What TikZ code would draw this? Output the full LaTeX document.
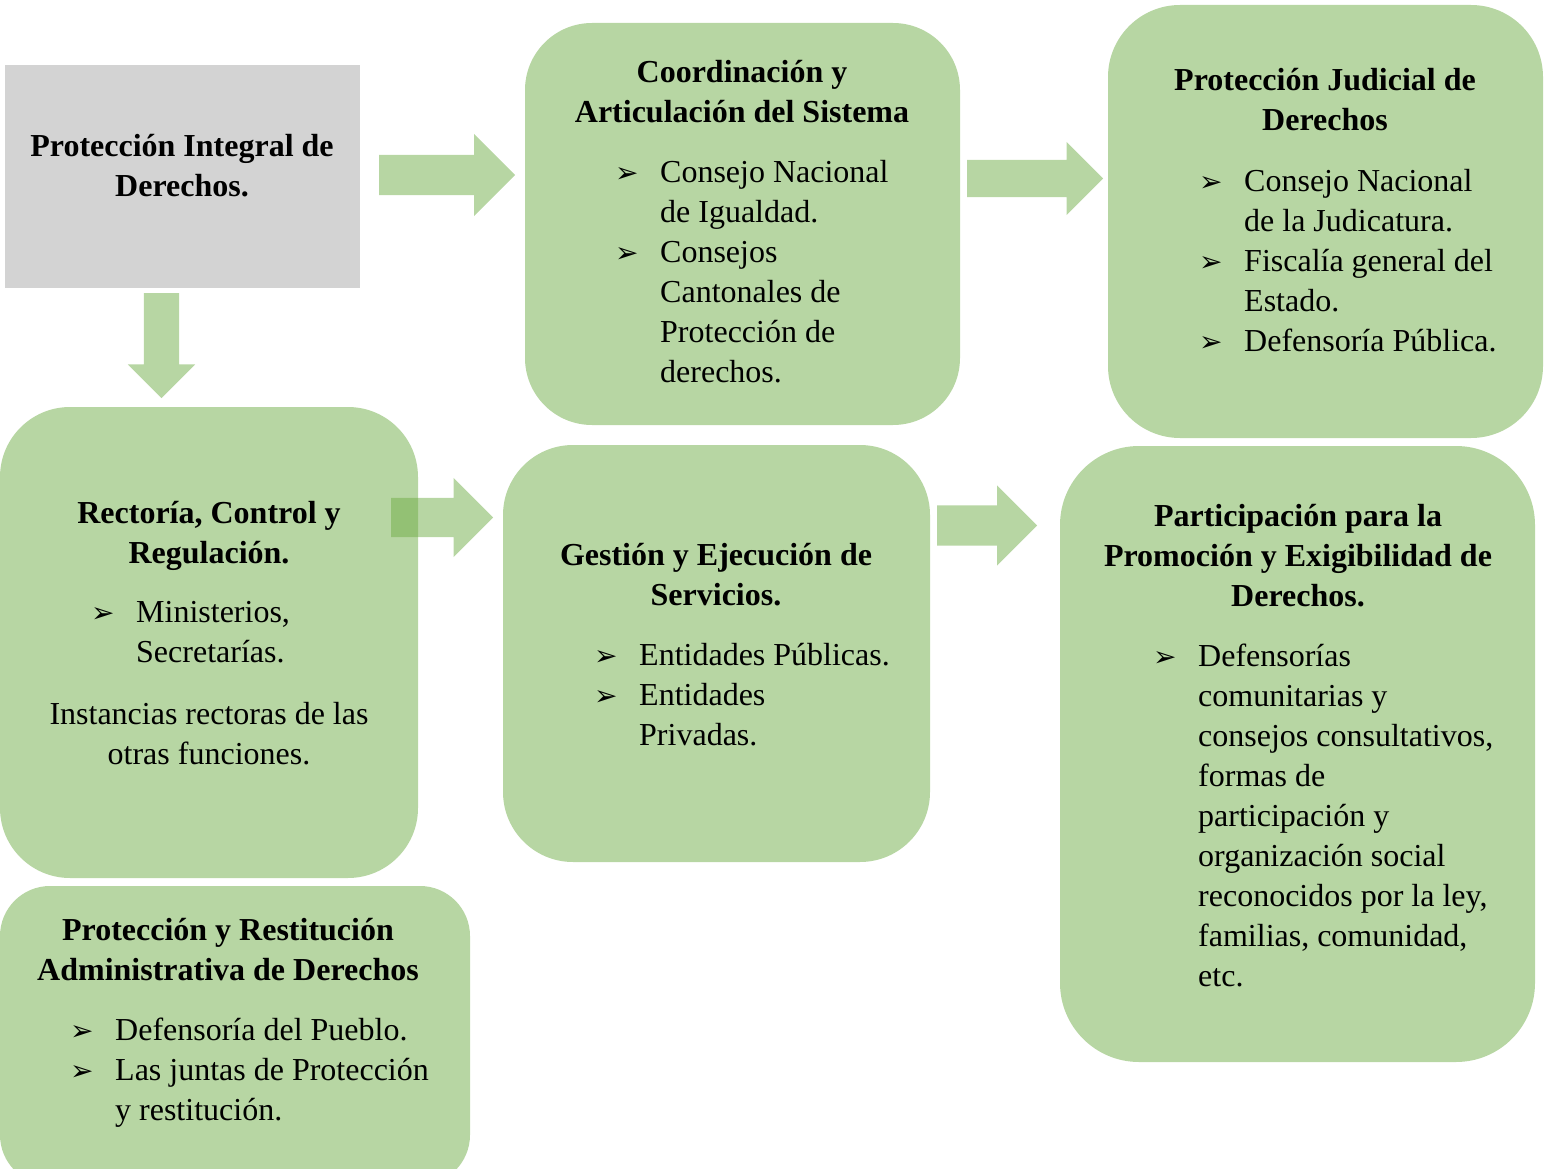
\documentclass[tikz,border=0pt]{standalone}
\usepackage{fontspec}
\setmainfont{Liberation Serif}
\newfontfamily\bulfont{DejaVu Sans}
\usetikzlibrary{shapes.arrows}
\definecolor{verde}{HTML}{70AD47}
\definecolor{gris}{HTML}{D3D3D3}
\newcommand{\bul}{\makebox[45pt][l]{\bulfont\fontsize{28}{28}\selectfont ➢}}

\begin{document}
\begin{tikzpicture}[x=1pt, y=-1pt]
  \useasboundingbox (0,0) rectangle (1551,1169);  % Rahmen wie im Original.
  \tikzstyle{caja}=[rectangle, fill=verde, fill opacity=.5, inner sep=0pt]
  \tikzstyle{cajagris}=[rectangle, fill=gris, inner sep=0pt]
  \tikzstyle{flecha}=[single arrow, fill=verde, fill opacity=.5, inner xsep=0pt, anchor=tail]
  \tikzstyle{titulo}=[font=\bfseries\fontsize{32}{40}\selectfont, inner sep=0pt, anchor=base]
  \tikzstyle{texto}=[font=\fontsize{32}{40}\selectfont, inner sep=0pt, anchor=base]
  \tikzstyle{lista}=[font=\fontsize{32}{40}\selectfont, inner sep=0pt, anchor=base west]

  \node[cajagris, minimum width=355, minimum height=223] (integral) at (182.5, 176.5) {};
  \node[caja, rounded corners=67, minimum width=435, minimum height=402] (coord) at (742.5, 224) {};
  \node[caja, rounded corners=72, minimum width=435, minimum height=433] (judicial) at (1325.5, 221.5) {};
  \node[caja, rounded corners=70, minimum width=418, minimum height=471] (rectoria) at (209, 642.5) {};
  \node[caja, rounded corners=70, minimum width=427, minimum height=417] (gestion) at (716.5, 653.5) {};
  \node[caja, rounded corners=79, minimum width=475, minimum height=616] (particip) at (1297.5, 754) {};
  \node[caja, rounded corners=50, minimum width=470, minimum height=299] (restit) at (235, 1035.5) {};

  \node[flecha, inner ysep=20, single arrow head extend=21, minimum height=136] (f1) at (379, 175) {};
  \node[flecha, inner ysep=18.5, single arrow head extend=18, minimum height=136] (f2) at (967, 178.5) {};
  \node[flecha, inner ysep=19.5, single arrow head extend=20, minimum height=102] (f3) at (391, 517.5) {};
  \node[flecha, inner ysep=20, single arrow head extend=20, minimum height=100] (f4) at (937, 525.5) {};
  \node[flecha, rotate=-90, inner ysep=17.5, single arrow head extend=16, minimum height=105] (f5) at (161.5, 293) {};

  \node[titulo] (t0) at (182, 157) {\begin{tabular}[t]{@{}c@{}}Protección Integral de\\ Derechos.\end{tabular}};

  \node[titulo] (t1) at (742, 83) {\begin{tabular}[t]{@{}c@{}}Coordinación y\\ Articulación del Sistema\end{tabular}};
  \node[lista] (l1) at (615, 183) {\begin{tabular}[t]{@{}l@{}l@{}}\bul & Consejo Nacional\\ & de Igualdad.\\ \bul & Consejos\\ & Cantonales de\\ & Protección de\\ & derechos.\end{tabular}};

  \node[titulo] (t2) at (1325, 91) {\begin{tabular}[t]{@{}c@{}}Protección Judicial de\\ Derechos\end{tabular}};
  \node[lista] (l2) at (1199, 192) {\begin{tabular}[t]{@{}l@{}l@{}}\bul & Consejo Nacional\\ & de la Judicatura.\\ \bul & Fiscalía general del\\ & Estado.\\ \bul & Defensoría Pública.\end{tabular}};

  \node[titulo] (t3) at (209, 523) {\begin{tabular}[t]{@{}c@{}}Rectoría, Control y\\ Regulación.\end{tabular}};
  \node[lista] (l3) at (91, 622) {\begin{tabular}[t]{@{}l@{}l@{}}\bul & Ministerios,\\ & Secretarías.\end{tabular}};
  \node[texto] (n3) at (209, 724) {\begin{tabular}[t]{@{}c@{}}Instancias rectoras de las\\ otras funciones.\end{tabular}};

  \node[titulo] (t4) at (716, 565) {\begin{tabular}[t]{@{}c@{}}Gestión y Ejecución de\\ Servicios.\end{tabular}};
  \node[lista] (l4) at (594, 665) {\begin{tabular}[t]{@{}l@{}l@{}}\bul & Entidades Públicas.\\ \bul & Entidades\\ & Privadas.\end{tabular}};

  \node[titulo] (t5) at (1298, 526) {\begin{tabular}[t]{@{}c@{}}Participación para la\\ Promoción y Exigibilidad de\\ Derechos.\end{tabular}};
  \node[lista] (l5) at (1153, 666) {\begin{tabular}[t]{@{}l@{}l@{}}\bul & Defensorías\\ & comunitarias y\\ & consejos consultativos,\\ & formas de\\ & participación y\\ & organización social\\ & reconocidos por la ley,\\ & familias, comunidad,\\ & etc.\end{tabular}};

  \node[titulo] (t6) at (228, 940) {\begin{tabular}[t]{@{}c@{}}Protección y Restitución\\ Administrativa de Derechos\end{tabular}};
  \node[lista] (l6) at (70, 1040) {\begin{tabular}[t]{@{}l@{}l@{}}\bul & Defensoría del Pueblo.\\ \bul & Las juntas de Protección\\ & y restitución.\end{tabular}};
\end{tikzpicture}
\end{document}
